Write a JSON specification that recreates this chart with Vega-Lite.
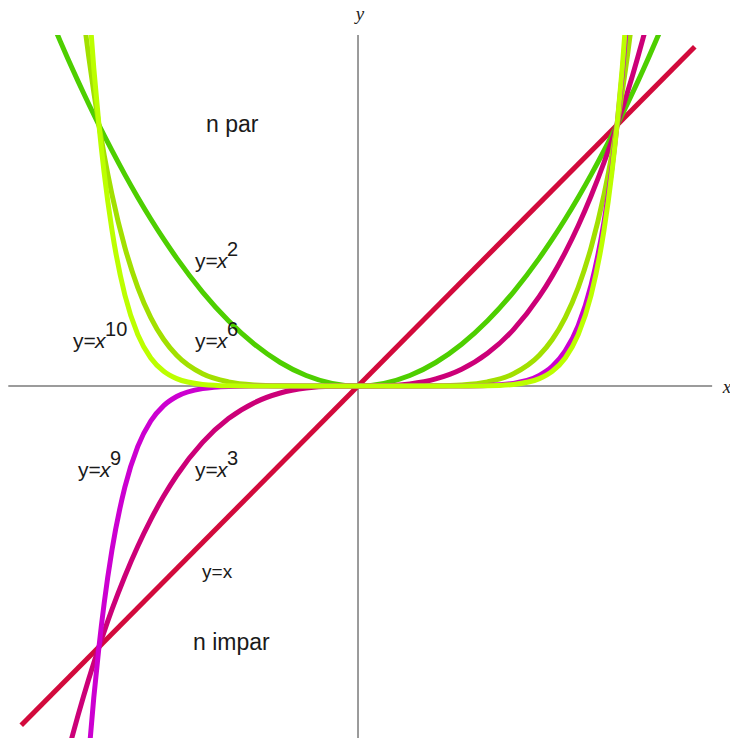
{
  "$schema": "https://vega.github.io/schema/vega-lite/v6.json",
  "width": 730,
  "height": 703,
  "padding": {"top": 35, "left": 0, "right": 0, "bottom": 0},
  "autosize": {"type": "none"},
  "background": "white",
  "config": {"view": {"stroke": null}},
  "datasets": {
    "axes": [
      {"x1": -1.35, "x2": 1.367, "y1": 0, "y2": 0},
      {"x1": 0, "x2": 0, "y1": -1.349, "y2": 1.345}
    ],
    "curves": [
      {"f": "x1", "x": -1.3, "y": -1.3},
      {"f": "x1", "x": 1.3, "y": 1.3},

      {"f": "x2", "x": -1.2, "y": 1.44},
      {"f": "x2", "x": -1.15, "y": 1.3225},
      {"f": "x2", "x": -1.12, "y": 1.2544},
      {"f": "x2", "x": -1.1, "y": 1.21},
      {"f": "x2", "x": -1.08, "y": 1.1664},
      {"f": "x2", "x": -1.06, "y": 1.1236},
      {"f": "x2", "x": -1.04, "y": 1.0816},
      {"f": "x2", "x": -1.02, "y": 1.0404},
      {"f": "x2", "x": -1.0, "y": 1.0},
      {"f": "x2", "x": -0.98, "y": 0.9604},
      {"f": "x2", "x": -0.95, "y": 0.9025},
      {"f": "x2", "x": -0.9, "y": 0.81},
      {"f": "x2", "x": -0.85, "y": 0.7225},
      {"f": "x2", "x": -0.8, "y": 0.64},
      {"f": "x2", "x": -0.75, "y": 0.5625},
      {"f": "x2", "x": -0.7, "y": 0.49},
      {"f": "x2", "x": -0.6, "y": 0.36},
      {"f": "x2", "x": -0.5, "y": 0.25},
      {"f": "x2", "x": -0.4, "y": 0.16},
      {"f": "x2", "x": -0.3, "y": 0.09},
      {"f": "x2", "x": -0.2, "y": 0.04},
      {"f": "x2", "x": -0.1, "y": 0.01},
      {"f": "x2", "x": 0, "y": 0},
      {"f": "x2", "x": 0.1, "y": 0.01},
      {"f": "x2", "x": 0.2, "y": 0.04},
      {"f": "x2", "x": 0.3, "y": 0.09},
      {"f": "x2", "x": 0.4, "y": 0.16},
      {"f": "x2", "x": 0.5, "y": 0.25},
      {"f": "x2", "x": 0.6, "y": 0.36},
      {"f": "x2", "x": 0.7, "y": 0.49},
      {"f": "x2", "x": 0.75, "y": 0.5625},
      {"f": "x2", "x": 0.8, "y": 0.64},
      {"f": "x2", "x": 0.85, "y": 0.7225},
      {"f": "x2", "x": 0.9, "y": 0.81},
      {"f": "x2", "x": 0.95, "y": 0.9025},
      {"f": "x2", "x": 0.98, "y": 0.9604},
      {"f": "x2", "x": 1.0, "y": 1.0},
      {"f": "x2", "x": 1.02, "y": 1.0404},
      {"f": "x2", "x": 1.04, "y": 1.0816},
      {"f": "x2", "x": 1.06, "y": 1.1236},
      {"f": "x2", "x": 1.08, "y": 1.1664},
      {"f": "x2", "x": 1.1, "y": 1.21},
      {"f": "x2", "x": 1.12, "y": 1.2544},
      {"f": "x2", "x": 1.15, "y": 1.3225},
      {"f": "x2", "x": 1.2, "y": 1.44},

      {"f": "x3", "x": -1.12, "y": -1.404928},
      {"f": "x3", "x": -1.1, "y": -1.331},
      {"f": "x3", "x": -1.08, "y": -1.259712},
      {"f": "x3", "x": -1.06, "y": -1.191016},
      {"f": "x3", "x": -1.04, "y": -1.124864},
      {"f": "x3", "x": -1.02, "y": -1.061208},
      {"f": "x3", "x": -1.0, "y": -1.0},
      {"f": "x3", "x": -0.98, "y": -0.941192},
      {"f": "x3", "x": -0.95, "y": -0.857375},
      {"f": "x3", "x": -0.9, "y": -0.729},
      {"f": "x3", "x": -0.85, "y": -0.614125},
      {"f": "x3", "x": -0.8, "y": -0.512},
      {"f": "x3", "x": -0.75, "y": -0.421875},
      {"f": "x3", "x": -0.7, "y": -0.343},
      {"f": "x3", "x": -0.6, "y": -0.216},
      {"f": "x3", "x": -0.5, "y": -0.125},
      {"f": "x3", "x": -0.4, "y": -0.064},
      {"f": "x3", "x": -0.3, "y": -0.027},
      {"f": "x3", "x": -0.2, "y": -0.008},
      {"f": "x3", "x": -0.1, "y": -0.001},
      {"f": "x3", "x": 0, "y": 0},
      {"f": "x3", "x": 0.1, "y": 0.001},
      {"f": "x3", "x": 0.2, "y": 0.008},
      {"f": "x3", "x": 0.3, "y": 0.027},
      {"f": "x3", "x": 0.4, "y": 0.064},
      {"f": "x3", "x": 0.5, "y": 0.125},
      {"f": "x3", "x": 0.6, "y": 0.216},
      {"f": "x3", "x": 0.7, "y": 0.343},
      {"f": "x3", "x": 0.75, "y": 0.421875},
      {"f": "x3", "x": 0.8, "y": 0.512},
      {"f": "x3", "x": 0.85, "y": 0.614125},
      {"f": "x3", "x": 0.9, "y": 0.729},
      {"f": "x3", "x": 0.95, "y": 0.857375},
      {"f": "x3", "x": 0.98, "y": 0.941192},
      {"f": "x3", "x": 1.0, "y": 1.0},
      {"f": "x3", "x": 1.02, "y": 1.061208},
      {"f": "x3", "x": 1.04, "y": 1.124864},
      {"f": "x3", "x": 1.06, "y": 1.191016},
      {"f": "x3", "x": 1.08, "y": 1.259712},
      {"f": "x3", "x": 1.1, "y": 1.331},
      {"f": "x3", "x": 1.12, "y": 1.404928},

      {"f": "x6", "x": -1.06, "y": 1.418519},
      {"f": "x6", "x": -1.04, "y": 1.265319},
      {"f": "x6", "x": -1.02, "y": 1.126162},
      {"f": "x6", "x": -1.0, "y": 1.0},
      {"f": "x6", "x": -0.98, "y": 0.885842},
      {"f": "x6", "x": -0.95, "y": 0.735092},
      {"f": "x6", "x": -0.9, "y": 0.531441},
      {"f": "x6", "x": -0.85, "y": 0.37715},
      {"f": "x6", "x": -0.8, "y": 0.262144},
      {"f": "x6", "x": -0.75, "y": 0.177979},
      {"f": "x6", "x": -0.7, "y": 0.117649},
      {"f": "x6", "x": -0.6, "y": 0.046656},
      {"f": "x6", "x": -0.5, "y": 0.015625},
      {"f": "x6", "x": -0.4, "y": 0.004096},
      {"f": "x6", "x": -0.3, "y": 0.000729},
      {"f": "x6", "x": -0.2, "y": 0.000064},
      {"f": "x6", "x": -0.1, "y": 0.000001},
      {"f": "x6", "x": 0, "y": 0},
      {"f": "x6", "x": 0.1, "y": 0.000001},
      {"f": "x6", "x": 0.2, "y": 0.000064},
      {"f": "x6", "x": 0.3, "y": 0.000729},
      {"f": "x6", "x": 0.4, "y": 0.004096},
      {"f": "x6", "x": 0.5, "y": 0.015625},
      {"f": "x6", "x": 0.6, "y": 0.046656},
      {"f": "x6", "x": 0.7, "y": 0.117649},
      {"f": "x6", "x": 0.75, "y": 0.177979},
      {"f": "x6", "x": 0.8, "y": 0.262144},
      {"f": "x6", "x": 0.85, "y": 0.37715},
      {"f": "x6", "x": 0.9, "y": 0.531441},
      {"f": "x6", "x": 0.95, "y": 0.735092},
      {"f": "x6", "x": 0.98, "y": 0.885842},
      {"f": "x6", "x": 1.0, "y": 1.0},
      {"f": "x6", "x": 1.02, "y": 1.126162},
      {"f": "x6", "x": 1.04, "y": 1.265319},
      {"f": "x6", "x": 1.06, "y": 1.418519},

      {"f": "x9", "x": -1.04, "y": -1.423312},
      {"f": "x9", "x": -1.02, "y": -1.195093},
      {"f": "x9", "x": -1.0, "y": -1.0},
      {"f": "x9", "x": -0.98, "y": -0.833748},
      {"f": "x9", "x": -0.95, "y": -0.630249},
      {"f": "x9", "x": -0.9, "y": -0.38742},
      {"f": "x9", "x": -0.85, "y": -0.231617},
      {"f": "x9", "x": -0.8, "y": -0.134218},
      {"f": "x9", "x": -0.75, "y": -0.075085},
      {"f": "x9", "x": -0.7, "y": -0.040354},
      {"f": "x9", "x": -0.6, "y": -0.010078},
      {"f": "x9", "x": -0.5, "y": -0.001953},
      {"f": "x9", "x": -0.4, "y": -0.000262},
      {"f": "x9", "x": -0.3, "y": -0.00002},
      {"f": "x9", "x": 0, "y": 0},
      {"f": "x9", "x": 0.3, "y": 0.00002},
      {"f": "x9", "x": 0.4, "y": 0.000262},
      {"f": "x9", "x": 0.5, "y": 0.001953},
      {"f": "x9", "x": 0.6, "y": 0.010078},
      {"f": "x9", "x": 0.7, "y": 0.040354},
      {"f": "x9", "x": 0.75, "y": 0.075085},
      {"f": "x9", "x": 0.8, "y": 0.134218},
      {"f": "x9", "x": 0.85, "y": 0.231617},
      {"f": "x9", "x": 0.9, "y": 0.38742},
      {"f": "x9", "x": 0.95, "y": 0.630249},
      {"f": "x9", "x": 0.98, "y": 0.833748},
      {"f": "x9", "x": 1.0, "y": 1.0},
      {"f": "x9", "x": 1.02, "y": 1.195093},
      {"f": "x9", "x": 1.04, "y": 1.423312},

      {"f": "x10", "x": -1.04, "y": 1.480244},
      {"f": "x10", "x": -1.02, "y": 1.218994},
      {"f": "x10", "x": -1.0, "y": 1.0},
      {"f": "x10", "x": -0.98, "y": 0.817073},
      {"f": "x10", "x": -0.95, "y": 0.598737},
      {"f": "x10", "x": -0.9, "y": 0.348678},
      {"f": "x10", "x": -0.85, "y": 0.196874},
      {"f": "x10", "x": -0.8, "y": 0.107374},
      {"f": "x10", "x": -0.75, "y": 0.056314},
      {"f": "x10", "x": -0.7, "y": 0.028248},
      {"f": "x10", "x": -0.6, "y": 0.006047},
      {"f": "x10", "x": -0.5, "y": 0.000977},
      {"f": "x10", "x": -0.4, "y": 0.000105},
      {"f": "x10", "x": -0.3, "y": 0.000006},
      {"f": "x10", "x": 0, "y": 0},
      {"f": "x10", "x": 0.3, "y": 0.000006},
      {"f": "x10", "x": 0.4, "y": 0.000105},
      {"f": "x10", "x": 0.5, "y": 0.000977},
      {"f": "x10", "x": 0.6, "y": 0.006047},
      {"f": "x10", "x": 0.7, "y": 0.028248},
      {"f": "x10", "x": 0.75, "y": 0.056314},
      {"f": "x10", "x": 0.8, "y": 0.107374},
      {"f": "x10", "x": 0.85, "y": 0.196874},
      {"f": "x10", "x": 0.9, "y": 0.348678},
      {"f": "x10", "x": 0.95, "y": 0.598737},
      {"f": "x10", "x": 0.98, "y": 0.817073},
      {"f": "x10", "x": 1.0, "y": 1.0},
      {"f": "x10", "x": 1.02, "y": 1.218994},
      {"f": "x10", "x": 1.04, "y": 1.480244}
    ],
    "powers": [
      {"x": -0.629, "y": 0.452, "e": "2"},
      {"x": -1.1, "y": 0.146, "e": "10"},
      {"x": -0.629, "y": 0.146, "e": "6"},
      {"x": -1.081, "y": -0.349, "e": "9"},
      {"x": -0.629, "y": -0.349, "e": "3"}
    ],
    "identity": [{"x": -0.602, "y": -0.736}],
    "notes": [
      {"x": -0.587, "y": 0.973, "t": "n par"},
      {"x": -0.637, "y": -1.011, "t": "n impar"}
    ],
    "axisnames": [
      {"x": 0.008, "y": 1.402, "t": "y", "a": "center"},
      {"x": 1.4245, "y": -0.027, "t": "x", "a": "left"}
    ]
  },
  "layer": [
    {
      "data": {"name": "axes"},
      "mark": {"type": "rule", "color": "#7a7a7a", "strokeWidth": 1.5},
      "encoding": {
        "x": {"field": "x1", "type": "quantitative", "scale": {"domain": [-1.382, 1.436], "nice": false, "zero": false}, "axis": null},
        "x2": {"field": "x2"},
        "y": {"field": "y1", "type": "quantitative", "scale": {"domain": [-1.349, 1.345], "nice": false, "zero": false}, "axis": null},
        "y2": {"field": "y2"}
      }
    },
    {
      "data": {"name": "curves"},
      "transform": [{"filter": "datum.f == 'x1'"}],
      "mark": {"type": "line", "color": "#d20a3c", "strokeWidth": 5, "clip": true},
      "encoding": {
        "x": {"field": "x", "type": "quantitative"},
        "y": {"field": "y", "type": "quantitative"}
      }
    },
    {
      "data": {"name": "curves"},
      "transform": [{"filter": "datum.f == 'x2'"}],
      "mark": {"type": "line", "color": "#4ecf00", "strokeWidth": 5, "clip": true, "interpolate": "monotone"},
      "encoding": {
        "x": {"field": "x", "type": "quantitative"},
        "y": {"field": "y", "type": "quantitative"}
      }
    },
    {
      "data": {"name": "curves"},
      "transform": [{"filter": "datum.f == 'x3'"}],
      "mark": {"type": "line", "color": "#cc0078", "strokeWidth": 5, "clip": true, "interpolate": "monotone"},
      "encoding": {
        "x": {"field": "x", "type": "quantitative"},
        "y": {"field": "y", "type": "quantitative"}
      }
    },
    {
      "data": {"name": "curves"},
      "transform": [{"filter": "datum.f == 'x6'"}],
      "mark": {"type": "line", "color": "#a2e000", "strokeWidth": 5, "clip": true, "interpolate": "monotone"},
      "encoding": {
        "x": {"field": "x", "type": "quantitative"},
        "y": {"field": "y", "type": "quantitative"}
      }
    },
    {
      "data": {"name": "curves"},
      "transform": [{"filter": "datum.f == 'x9'"}],
      "mark": {"type": "line", "color": "#cc00d0", "strokeWidth": 5, "clip": true, "interpolate": "monotone"},
      "encoding": {
        "x": {"field": "x", "type": "quantitative"},
        "y": {"field": "y", "type": "quantitative"}
      }
    },
    {
      "data": {"name": "curves"},
      "transform": [{"filter": "datum.f == 'x10'"}],
      "mark": {"type": "line", "color": "#bcff00", "strokeWidth": 5, "clip": true, "interpolate": "monotone"},
      "encoding": {
        "x": {"field": "x", "type": "quantitative"},
        "y": {"field": "y", "type": "quantitative"}
      }
    },
    {
      "data": {"name": "powers"},
      "mark": {"type": "text", "text": "y=", "align": "left", "baseline": "alphabetic", "font": "Liberation Sans", "fontSize": 21, "color": "#1a1a1a"},
      "encoding": {
        "x": {"field": "x", "type": "quantitative"},
        "y": {"field": "y", "type": "quantitative"}
      }
    },
    {
      "data": {"name": "powers"},
      "mark": {"type": "text", "text": "x", "align": "left", "baseline": "alphabetic", "dx": 22, "font": "Liberation Sans", "fontStyle": "italic", "fontSize": 21, "color": "#1a1a1a"},
      "encoding": {
        "x": {"field": "x", "type": "quantitative"},
        "y": {"field": "y", "type": "quantitative"}
      }
    },
    {
      "data": {"name": "powers"},
      "mark": {"type": "text", "align": "left", "baseline": "alphabetic", "dx": 32, "dy": -12, "font": "Liberation Sans", "fontSize": 20, "color": "#1a1a1a"},
      "encoding": {
        "x": {"field": "x", "type": "quantitative"},
        "y": {"field": "y", "type": "quantitative"},
        "text": {"field": "e", "type": "nominal"}
      }
    },
    {
      "data": {"name": "identity"},
      "mark": {"type": "text", "text": "y=x", "align": "left", "baseline": "alphabetic", "font": "Liberation Sans", "fontSize": 19, "color": "#1a1a1a"},
      "encoding": {
        "x": {"field": "x", "type": "quantitative"},
        "y": {"field": "y", "type": "quantitative"}
      }
    },
    {
      "data": {"name": "notes"},
      "mark": {"type": "text", "align": "left", "baseline": "alphabetic", "font": "Liberation Sans", "fontSize": 23, "color": "#1a1a1a"},
      "encoding": {
        "x": {"field": "x", "type": "quantitative"},
        "y": {"field": "y", "type": "quantitative"},
        "text": {"field": "t", "type": "nominal"}
      }
    },
    {
      "data": {"name": "axisnames"},
      "mark": {"type": "text", "baseline": "alphabetic", "font": "Liberation Serif", "fontStyle": "italic", "fontSize": 19, "color": "#222222"},
      "encoding": {
        "x": {"field": "x", "type": "quantitative"},
        "y": {"field": "y", "type": "quantitative"},
        "text": {"field": "t", "type": "nominal"},
        "align": {"field": "a", "type": "nominal", "scale": null}
      }
    }
  ]
}
